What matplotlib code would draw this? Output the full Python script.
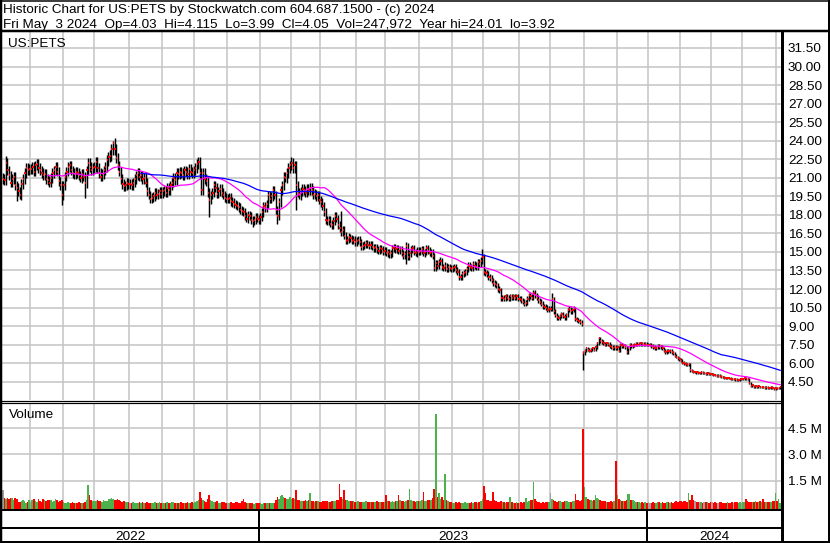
import numpy as np
import pandas as pd
import matplotlib
matplotlib.use("Agg")
import matplotlib.pyplot as plt
from matplotlib.lines import Line2D

plt.rcParams['font.family'] = ['Liberation Sans', 'DejaVu Sans']

W, H = 830, 543

title_line1 = "Historic Chart for US:PETS by Stockwatch.com 604.687.1500 - (c) 2024"
title_line2 = "Fri May  3 2024  Op=4.03  Hi=4.115  Lo=3.99  Cl=4.05  Vol=247,972  Year hi=24.01  lo=3.92"
symbol_label = "US:PETS"
volume_label = "Volume"

start_date = "2022-05-05"
end_date = "2024-05-03"
market_holidays = ["2022-05-30", "2022-06-20", "2022-07-04", "2022-09-05", "2022-11-24",
                   "2022-12-26", "2023-01-02", "2023-01-16", "2023-02-20", "2023-04-07",
                   "2023-05-29", "2023-06-19", "2023-07-04", "2023-09-04", "2023-11-23",
                   "2023-12-25", "2024-01-01", "2024-01-15", "2024-02-19", "2024-03-29"]

# daily closes, one line per month
closes = [
    20.9, 20.8, 22.2, 21.6, 21.2, 20.6, 20.9, 21.1, 20.4, 20.2, 19.9, 19.6, 20.5, 20.9, 21.4, 21.8, 21.6, 21.7,
    21.7, 21.9, 21.5, 22.0, 22.1, 21.8, 21.6, 21.4, 21.2, 21.3, 20.9, 20.8, 20.6, 21.0, 21.4, 21.6, 21.9, 21.5, 20.7, 20.4, 19.6,
    20.4, 21.1, 21.5, 21.9, 22.0, 21.6, 21.4, 21.3, 21.5, 21.4, 21.2, 21.0, 21.3, 21.1, 20.6, 21.6, 22.2, 21.9, 21.6, 21.8,
    21.9, 22.3, 21.8, 21.4, 21.1, 21.3, 21.6, 21.9, 22.4, 22.7, 22.8, 23.3, 23.8, 23.3, 22.6, 22.0, 21.5, 20.9, 20.5, 20.3, 20.4, 20.6, 20.5,
    20.5, 20.4, 20.6, 20.9, 21.2, 21.4, 21.1, 21.2, 20.9, 21.0, 20.6, 19.9, 19.6, 19.3, 19.4, 19.5, 19.8, 19.6, 19.7, 19.9, 19.7,
    19.9, 20.0, 19.8, 20.2, 20.0, 20.4, 20.6, 21.0, 20.8, 21.4, 21.3, 21.5, 21.4, 21.2, 21.6, 21.5, 21.3, 21.7, 21.5, 21.4, 21.6,
    21.8, 22.1, 22.3, 21.4, 20.0, 21.4, 20.9, 20.7, 19.8, 19.2, 19.6, 19.8, 20.4, 20.2, 19.7, 19.9, 20.1, 19.8, 19.6, 19.4, 19.3,
    19.3, 19.4, 19.1, 19.0, 18.9, 18.8, 18.7, 18.6, 18.4, 18.3, 18.2, 17.9, 17.7, 18.0, 17.9, 17.6, 17.5, 17.6, 17.8, 17.7, 17.6,
    17.8, 18.2, 18.7, 18.6, 18.9, 19.6, 19.3, 19.5, 20.0, 19.6, 18.4, 17.9, 19.0, 20.0, 20.4, 21.1, 21.0, 21.4, 21.8, 22.0,
    22.2, 21.8, 22.0, 20.4, 19.8, 19.6, 19.9, 20.1, 20.0, 19.8, 20.1, 20.0, 20.2, 20.0, 19.6, 19.7, 19.5, 19.6, 19.2,
    19.0, 18.7, 18.2, 17.6, 17.5, 17.6, 17.3, 17.2, 17.5, 17.9, 17.7, 17.2, 16.9, 16.6, 16.8, 16.3, 15.9, 16.0, 16.2, 16.1, 15.9, 16.0, 15.8,
    15.9, 16.0, 15.8, 15.4, 15.5, 15.6, 15.7, 15.6, 15.5, 15.6, 15.4, 15.3, 15.4, 15.2, 15.1, 15.3, 15.2, 15.0, 15.1,
    14.9, 15.0, 14.8, 14.9, 15.3, 15.4, 15.2, 15.3, 15.1, 15.2, 14.9, 14.7, 14.8, 15.5, 14.6, 14.9, 15.2, 15.3, 15.0, 14.9, 15.1, 15.0,
    15.1, 15.2, 14.9, 15.0, 15.3, 15.1, 14.9, 15.0, 14.7, 13.7, 14.1, 13.9, 14.2, 14.3, 13.8, 13.7, 13.9, 13.6, 13.8, 13.7, 13.6,
    13.7, 13.8, 13.5, 13.4, 13.0, 12.95, 13.2, 13.3, 13.4, 13.6, 13.9, 13.8, 13.7, 14.0, 13.9, 13.8, 14.2, 14.0, 14.3, 14.6,
    13.4, 13.3, 13.2, 13.0, 12.9, 12.7, 12.5, 12.4, 12.3, 12.0, 11.9, 11.25, 11.3, 11.2, 11.4, 11.3, 11.2, 11.4, 11.3, 11.4, 11.3, 11.4, 11.2,
    11.2, 11.1, 10.98, 10.8, 10.9, 11.2, 11.5, 11.4, 11.3, 11.7, 11.5, 11.3, 11.1, 10.98, 10.8, 10.6, 10.57, 10.5, 10.3, 10.4,
    10.4, 11.2, 10.2, 9.9, 9.7, 9.63, 9.8, 10.0, 9.8, 9.7, 9.9, 10.3, 10.4, 10.2, 10.3, 10.4, 9.6, 9.5, 9.4, 9.3, 9.2, 6.8,
    7.0, 7.2, 7.1, 7.0, 7.1, 7.2, 7.1, 7.3, 7.6, 8.0, 7.8, 7.7, 7.6, 7.5, 7.6, 7.55, 7.4, 7.3, 7.2, 7.3, 7.2,
    7.3, 7.0, 7.5, 7.4, 7.45, 7.3, 6.9, 7.2, 7.5, 7.4, 7.45, 7.5, 7.55, 7.5, 7.55, 7.6, 7.55, 7.5, 7.55, 7.5,
    7.5, 7.5, 7.4, 7.3, 7.2, 7.25, 7.4, 7.3, 7.35, 7.2, 7.0, 6.9, 7.0, 6.95, 7.0, 6.9, 6.8, 6.6, 6.5, 6.4, 6.3,
    6.2, 6.05, 6.0, 5.9, 5.85, 5.9, 5.45, 5.35, 5.3, 5.3, 5.25, 5.2, 5.2, 5.25, 5.2, 5.2, 5.15, 5.2, 5.15, 5.1,
    5.1, 5.05, 5.04, 5.0, 5.0, 4.95, 4.9, 4.85, 4.8, 4.78, 4.8, 4.78, 4.75, 4.7, 4.7, 4.68, 4.64, 4.65, 4.7, 4.7,
    4.75, 4.8, 4.75, 4.7, 4.4, 4.15, 4.2, 4.1, 4.15, 4.1, 4.12, 4.05, 4.1, 4.05, 4.0, 4.05, 4.02, 4.0, 4.05, 4.0, 3.93, 3.99,
    3.95, 4.02, 4.05,
]

# daily volume in thousands of shares, one line per month
volumes_k = [
    970, 520, 480, 530, 450, 500, 520, 380, 510, 460, 300, 280, 350, 420, 330, 260, 300, 380,
    310, 420, 470, 330, 300, 440, 350, 290, 480, 400, 320, 380, 430, 390, 270, 330, 440, 380, 300, 350, 420,
    300, 260, 240, 280, 250, 230, 270, 260, 240, 250, 280, 260, 230, 250, 300, 420, 1250, 700, 380, 350,
    340, 320, 380, 360, 330, 300, 410, 350, 320, 440, 480, 520, 470, 430, 400, 460, 380, 350, 300, 320, 280, 300, 270,
    250, 230, 270, 260, 240, 220, 280, 260, 300, 250, 230, 270, 240, 260, 220, 250, 300, 240, 230, 270, 250,
    240, 260, 230, 270, 250, 220, 280, 300, 260, 240, 230, 250, 270, 260, 240, 230, 280, 250, 240, 270, 260,
    300, 350, 400, 870, 520, 380, 330, 300, 450, 680, 420, 360, 300, 280, 330, 250, 230, 270, 300, 280, 250,
    260, 240, 280, 230, 250, 270, 300, 260, 240, 320, 480, 300, 260, 230, 210, 250, 220, 200, 240, 230, 210,
    220, 200, 230, 250, 210, 240, 220, 230, 260, 250, 420, 550, 480, 610, 700, 560, 520, 480, 450, 600,
    450, 520, 480, 970, 420, 380, 350, 320, 340, 400, 360, 380, 820, 350, 330, 300, 320, 340, 310,
    300, 330, 350, 320, 340, 310, 300, 320, 350, 330, 380, 400, 1290, 550, 480, 970, 420, 380, 350, 330, 320, 340, 310,
    300, 320, 290, 310, 280, 300, 330, 290, 310, 300, 280, 270, 300, 320, 290, 280, 310, 300, 290,
    680, 350, 320, 300, 340, 310, 330, 360, 680, 380, 340, 320, 300, 350, 380, 1050, 420, 350, 330, 300, 320, 340,
    350, 380, 850, 360, 340, 380, 420, 390, 500, 1050, 5300, 600, 820, 450, 600, 380, 1880, 400, 350, 300, 280,
    260, 250, 270, 240, 280, 260, 250, 230, 270, 260, 240, 250, 280, 260, 300, 270, 250, 280, 320, 450,
    1210, 800, 420, 380, 350, 330, 850, 400, 350, 300, 280, 320, 300, 280, 260, 270, 290, 600, 280, 260, 250, 270, 260,
    250, 270, 260, 280, 500, 300, 320, 380, 420, 1430, 450, 350, 300, 280, 260, 270, 250, 300, 280, 290,
    780, 450, 380, 340, 300, 350, 320, 280, 300, 320, 350, 330, 300, 280, 320, 350, 740, 400, 380, 350, 420, 4450,
    1130, 600, 450, 400, 380, 350, 420, 700, 520, 450, 400, 350, 330, 320, 300, 310, 290, 320, 300, 350, 2620,
    700, 450, 380, 350, 320, 360, 420, 750, 740, 400, 380, 320, 300, 280, 300, 260, 280, 250, 270, 260,
    280, 260, 250, 270, 260, 240, 280, 300, 250, 270, 260, 240, 280, 270, 250, 300, 260, 280, 320, 300, 350,
    330, 300, 320, 350, 300, 780, 420, 700, 380, 330, 300, 280, 270, 290, 260, 280, 300, 270, 260, 280,
    270, 250, 280, 260, 240, 270, 300, 250, 260, 240, 280, 260, 250, 270, 260, 300, 280, 250, 270, 260,
    280, 300, 480, 320, 290, 300, 280, 310, 330, 300, 290, 320, 310, 450, 300, 290, 280, 310, 300, 350, 320, 780,
    330, 480, 248,
]

# notable intraday extremes: (month, trading-day offset in month) -> price
high_marks = {("2022-05", 2): 22.8, ("2022-08", 12): 24.0, ("2023-02", 0): 22.7,
              ("2023-03", 13): 18.3, ("2023-05", 13): 15.8, ("2023-07", 19): 15.2,
              ("2023-10", 1): 11.7, ("2023-11", 9): 8.15, ("2023-10", 21): 7.0}
low_marks = {("2022-05", 9): 19.1, ("2022-06", 20): 18.8, ("2022-07", 14): 19.4,
             ("2022-11", 9): 17.8, ("2022-12", 16): 17.0, ("2023-01", 11): 17.3,
             ("2023-02", 3): 18.4, ("2023-05", 13): 14.0, ("2023-10", 21): 5.45,
             ("2024-02", 6): 5.3}
open_marks = {("2023-10", 21): 6.95}
first_open = 21.0

price_ticks = [4.5, 6.0, 7.5, 9.0, 10.5, 12.0, 13.5, 15.0, 16.5, 18.0, 19.5, 21.0,
               22.5, 24.0, 25.5, 27.0, 28.5, 30.0, 31.5]
volume_ticks = [1.5e6, 3.0e6, 4.5e6]
volume_tick_labels = ["1.5 M", "3.0 M", "4.5 M"]
ma_short, ma_long = 30, 90

# ---------------------------------------------------------------
dates = pd.bdate_range(start_date, end_date, freq="C", holidays=market_holidays)
n = len(dates)
assert len(closes) == n, (len(closes), n)
assert len(volumes_k) == n, (len(volumes_k), n)
c = np.array(closes, dtype=float)
v = np.array(volumes_k, dtype=float) * 1000
months = np.array(dates.strftime("%Y-%m"))

def key_index(key):
    ym, off = key
    return np.where(months == ym)[0][off]

o = np.concatenate([[first_open], c[:-1]])
for k, val in open_marks.items():
    o[key_index(k)] = val
pad = c * 0.018
hi = np.maximum(o, c) + pad
lo = np.minimum(o, c) - pad
for k, val in high_marks.items():
    hi[key_index(k)] = val
for k, val in low_marks.items():
    lo[key_index(k)] = val

s = pd.Series(c)
ma1 = s.rolling(ma_short).mean().values
ma2 = s.rolling(ma_long).mean().values

x = np.arange(n)
month_starts = [i for i in range(1, n) if months[i] != months[i - 1]]
year_starts = [i for i in range(1, n) if dates[i].year != dates[i - 1].year]

chg = np.diff(np.concatenate([[c[0]], c]))
vcol = np.where(chg > 0, "#4cb34c", np.where(chg < 0, "#ff0000", "#a0a0a0"))

fig = plt.figure(figsize=(W / 100, H / 100), dpi=100)
fig.patch.set_facecolor("white")

def fx(px):
    return px / W

def fy(py):
    return 1 - py / H

def hl(py, x0, x1, lw):
    fig.add_artist(Line2D([fx(x0), fx(x1)], [fy(py), fy(py)], color="black",
                          lw=lw * 0.72, solid_capstyle="butt", transform=fig.transFigure))

def vl(px, y0, y1, lw):
    fig.add_artist(Line2D([fx(px), fx(px)], [fy(y0), fy(y1)], color="black",
                          lw=lw * 0.72, solid_capstyle="butt", transform=fig.transFigure))

AX_L, AX_R = 2, 781
ax = fig.add_axes([fx(AX_L), fy(400), fx(AX_R) - fx(AX_L), fy(31) - fy(400)])
axv = fig.add_axes([fx(AX_L), fy(509), fx(AX_R) - fx(AX_L), fy(403) - fy(509)])

grid_c = "#c4c4c4"
FS = 9.7
for a in (ax, axv):
    a.set_xlim(-0.5, n - 0.5)
    for sp in a.spines.values():
        sp.set_visible(False)
    a.set_xticks([m - 0.5 for m in month_starts])
    a.tick_params(axis="x", length=0, labelbottom=False)
    a.yaxis.tick_right()
    a.tick_params(axis="y", length=0, pad=5, labelsize=FS, colors="black")
    a.set_axisbelow(True)
    a.grid(True, color=grid_c, lw=1.1, zorder=0)

ax.set_ylim(3.02, 32.875)
ax.set_yticks(price_ticks)
ax.set_yticklabels([f"{t:.2f}" for t in price_ticks])

ax.vlines(x, lo, hi, color="black", lw=1.05, zorder=2)
ax.hlines(c, x - 0.05, x + 0.8, color="#ff0000", lw=1.4, zorder=3)
ax.plot(x, ma1, color="#ff00ff", lw=0.9, zorder=4)
ax.plot(x, ma2, color="#0000ff", lw=0.9, zorder=4)

axv.set_ylim(-0.11e6, 5.93e6)
axv.set_yticks(volume_ticks)
axv.set_yticklabels(volume_tick_labels)
axv.bar(x, v + 0.11e6, bottom=-0.11e6, width=1.0, color=vcol, lw=0, zorder=2)

# texts
fig.text(fx(3), fy(13.5), title_line1, fontsize=FS, va="baseline", ha="left")
fig.text(fx(3), fy(28.3), title_line2, fontsize=FS, va="baseline", ha="left")
fig.text(fx(8), fy(47), symbol_label, fontsize=FS, va="baseline", ha="left")
fig.text(fx(9), fy(418), volume_label, fontsize=FS, va="baseline", ha="left")

# year labels
px_per = (AX_R - AX_L) / n
bounds = [0] + year_starts + [n]
for a0, a1 in zip(bounds[:-1], bounds[1:]):
    xc = AX_L + ((a0 + a1) / 2) * px_per
    fig.text(fx(xc), fy(540), str(dates[a0].year), fontsize=FS, va="baseline", ha="center")
for ys in year_starts:
    vl(AX_L + ys * px_per - 1, 509, 541, 2)

# frame lines
hl(0.5, 0, 830, 1.5)
hl(30.5, 0, 830, 2.5)
hl(400.5, 0, AX_R, 1.2)
hl(403, 0, AX_R, 1.2)
hl(509.5, 0, AX_R, 2)
hl(527.5, 0, AX_R, 2)
hl(541.5, 0, 830, 2)
vl(1, 0, 542, 2.5)
vl(828.5, 0, 542, 2)
vl(782, 30, 542, 3)

fig.savefig("out.png", dpi=100, facecolor="white")
